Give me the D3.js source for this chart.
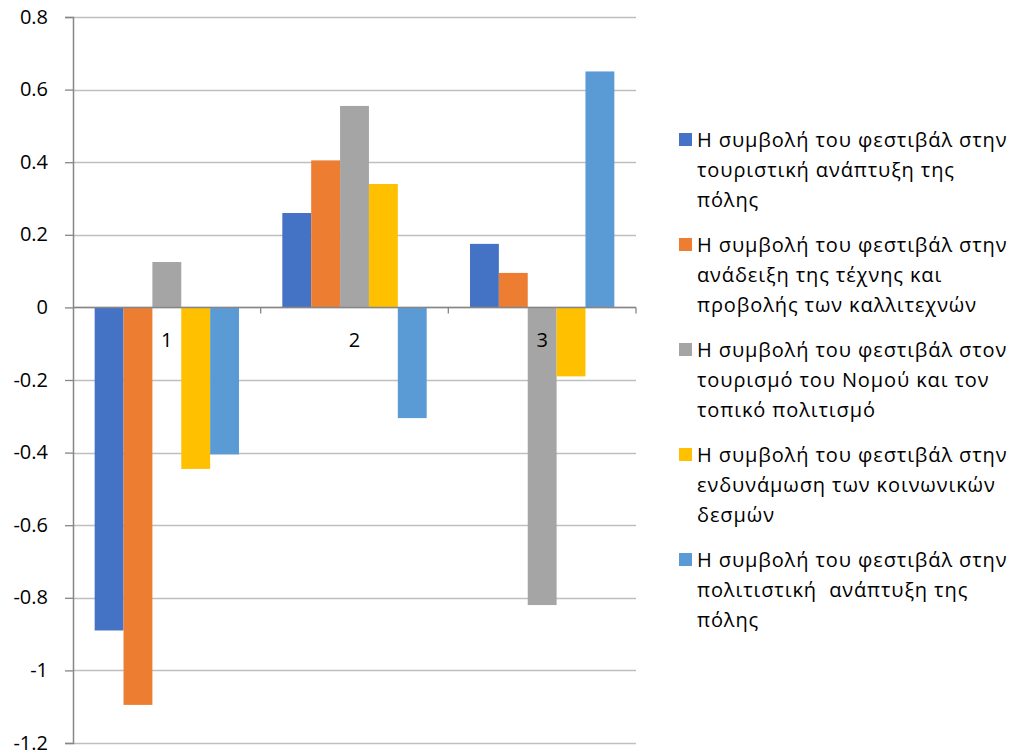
<!DOCTYPE html>
<html><head><meta charset="utf-8">
<script src="https://cdn.jsdelivr.net/npm/d3@7"></script>
<style>body{margin:0;background:#fff}svg{display:block}</style>
</head><body>
<svg id="c" width="1011" height="754"></svg>
<script>
const categories = ["1","2","3"];
const seriesNames = [
  ["Η συμβολή του φεστιβάλ στην","τουριστική ανάπτυξη της","πόλης"],
  ["Η συμβολή του φεστιβάλ στην","ανάδειξη της τέχνης και","προβολής των καλλιτεχνών"],
  ["Η συμβολή του φεστιβάλ στον","τουρισμό του Νομού και τον","τοπικό πολιτισμό"],
  ["Η συμβολή του φεστιβάλ στην","ενδυνάμωση των κοινωνικών","δεσμών"],
  ["Η συμβολή του φεστιβάλ στην","πολιτιστική  ανάπτυξη της","πόλης"]
];
const s1 = [-0.89, 0.26, 0.175];
const s2 = [-1.095, 0.405, 0.095];
const s3 = [0.125, 0.555, -0.82];
const s4 = [-0.445, 0.34, -0.19];
const s5 = [-0.405, -0.305, 0.65];
const colors = ["#4472C4","#ED7D31","#A5A5A5","#FFC000","#5B9BD5"];
const yTicks = [0.8,0.6,0.4,0.2,0,-0.2,-0.4,-0.6,-0.8,-1,-1.2];
const yTickLabels = ["0.8","0.6","0.4","0.2","0","-0.2","-0.4","-0.6","-0.8","-1","-1.2"];

const values = [s1,s2,s3,s4,s5];
const svg = d3.select("#c");
const font = "'Open Sans', sans-serif";
const pLeft = 73, pRight = 636, pTop = 17, pBottom = 743;

const y = d3.scaleLinear().domain([-1.2,0.8]).range([pBottom, pTop]);
const x0 = d3.scaleBand().domain(categories).range([pLeft, pRight]).padding(0);
const x1 = d3.scaleBand().domain(d3.range(5)).range([0, x0.bandwidth()]).paddingInner(0).paddingOuter(0.75);

// gridlines
svg.append("g").selectAll("line").data(yTicks).join("line")
  .attr("x1", pLeft).attr("x2", pRight)
  .attr("y1", d => Math.round(y(d))+0.5).attr("y2", d => Math.round(y(d))+0.5)
  .attr("stroke", "#bfbfbf").attr("stroke-width", 1.3);

// bars
categories.forEach((c, ci) => {
  values.forEach((s, si) => {
    const v = s[ci];
    svg.append("rect")
      .attr("x", x0(c) + x1(si))
      .attr("width", x1.bandwidth())
      .attr("y", y(Math.max(0, v)))
      .attr("height", Math.abs(y(v) - y(0)))
      .attr("fill", colors[si]);
  });
});

// y axis
const yAxis = d3.axisLeft(y).tickValues(yTicks).tickFormat((d,i) => yTickLabels[i]).tickSize(8).tickPadding(17);
const gy = svg.append("g").attr("transform", `translate(${pLeft},0)`).call(yAxis);
gy.select(".domain").attr("stroke", "#868686").attr("stroke-width", 1.5);
gy.selectAll(".tick line").attr("stroke", "#868686").attr("stroke-width", 1.3);
gy.selectAll("text").attr("font-family", font).attr("font-size", 20).attr("fill", "#000").attr("dy", "0.3em");

// zero category axis
const zy = Math.round(y(0)) + 0.5;
svg.append("line").attr("x1", pLeft).attr("x2", pRight).attr("y1", zy).attr("y2", zy)
  .attr("stroke", "#868686").attr("stroke-width", 1.3);
const bounds = categories.map(c => x0(c)).concat([x0(categories[categories.length-1]) + x0.bandwidth()]);
svg.append("g").selectAll("line").data(bounds.slice(1)).join("line")
  .attr("x1", d => d).attr("x2", d => d).attr("y1", zy).attr("y2", zy + 6)
  .attr("stroke", "#868686").attr("stroke-width", 1.3);
svg.append("g").selectAll("text").data(categories).join("text")
  .attr("x", d => x0(d) + x0.bandwidth()/2)
  .attr("y", zy + 39)
  .attr("text-anchor", "middle")
  .attr("font-family", font).attr("font-size", 20).attr("fill", "#000")
  .text(d => d);

// legend
const lg = svg.append("g");
seriesNames.forEach((lines, i) => {
  const ly = 140 + i * 105;
  lg.append("rect").attr("x", 679).attr("y", ly - 7).attr("width", 13).attr("height", 13).attr("fill", colors[i]);
  lines.forEach((t, j) => {
    lg.append("text").attr("x", 697).attr("y", ly + j * 30 + 7)
      .attr("font-family", font).attr("font-size", 20).attr("letter-spacing", "0.9px").attr("fill", "#000")
      .style("white-space", "pre")
      .text(t);
  });
});
</script>
</body></html>
